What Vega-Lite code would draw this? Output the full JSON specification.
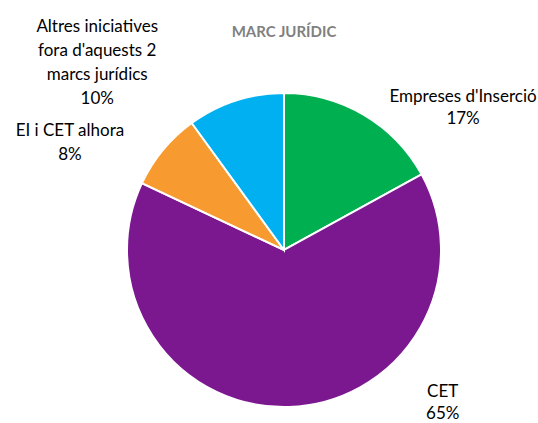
{
  "$schema": "https://vega.github.io/schema/vega-lite/v6.json",
  "width": 314,
  "height": 314,
  "autosize": "none",
  "padding": {"left": 127, "top": 93, "right": 97, "bottom": 16},
  "background": "white",
  "config": {"view": {"stroke": null}, "font": "Lato"},
  "title": {"text": "MARC JURÍDIC", "fontSize": 15, "fontWeight": "bold", "color": "#808080", "font": "Lato", "anchor": "middle", "offset": 0, "dy": 22},
  "data": {"values": [
    {"name": "Empreses d'Inserció", "pct": 17, "ord": 1},
    {"name": "CET", "pct": 65, "ord": 2},
    {"name": "EI i CET alhora", "pct": 8, "ord": 3},
    {"name": "Altres iniciatives\nfora d'aquests 2\nmarcs jurídics", "pct": 10, "ord": 4}
  ]},
  "transform": [
    {"stack": "pct", "groupby": [], "sort": [{"field": "ord", "order": "ascending"}], "as": ["t0", "t1"]},
    {"calculate": "(datum.t0 + datum.t1) / 2", "as": "mid"},
    {"calculate": "datum.name + '\\n' + datum.pct + '%'", "as": "label"}
  ],
  "layer": [
    {
      "mark": {"type": "arc", "stroke": "white", "strokeWidth": 2},
      "encoding": {
        "theta": {"field": "t0", "type": "quantitative", "scale": {"domain": [0, 100]}},
        "theta2": {"field": "t1"},
        "color": {"field": "name", "type": "nominal", "legend": null,
          "scale": {"domain": ["Empreses d'Inserció", "CET", "EI i CET alhora", "Altres iniciatives\nfora d'aquests 2\nmarcs jurídics"],
                    "range": ["#00B050", "#7B1890", "#F79A30", "#00B0F0"]}}
      }
    },
    {
      "transform": [{"filter": "datum.ord == 1"}],
      "mark": {"type": "text", "radius": 228, "dx": 63, "dy": 43, "fontSize": 17, "lineHeight": 22, "color": "#000000", "lineBreak": "\n"},
      "encoding": {"theta": {"field": "mid", "type": "quantitative"}, "text": {"field": "label"}}
    },
    {
      "transform": [{"filter": "datum.ord == 2"}],
      "mark": {"type": "text", "radius": 150, "dx": 154, "dy": -8, "fontSize": 17, "lineHeight": 22, "color": "#000000", "lineBreak": "\n"},
      "encoding": {"theta": {"field": "mid", "type": "quantitative"}, "text": {"field": "label"}}
    },
    {
      "transform": [{"filter": "datum.ord == 3"}],
      "mark": {"type": "text", "radius": 200, "dx": -60, "dy": 8, "fontSize": 17, "lineHeight": 24, "color": "#000000", "lineBreak": "\n"},
      "encoding": {"theta": {"field": "mid", "type": "quantitative"}, "text": {"field": "label"}}
    },
    {
      "transform": [{"filter": "datum.ord == 4"}],
      "mark": {"type": "text", "radius": 200, "dx": -125, "dy": -33, "fontSize": 17, "lineHeight": 24, "color": "#000000", "lineBreak": "\n"},
      "encoding": {"theta": {"field": "mid", "type": "quantitative"}, "text": {"field": "label"}}
    }
  ]
}
